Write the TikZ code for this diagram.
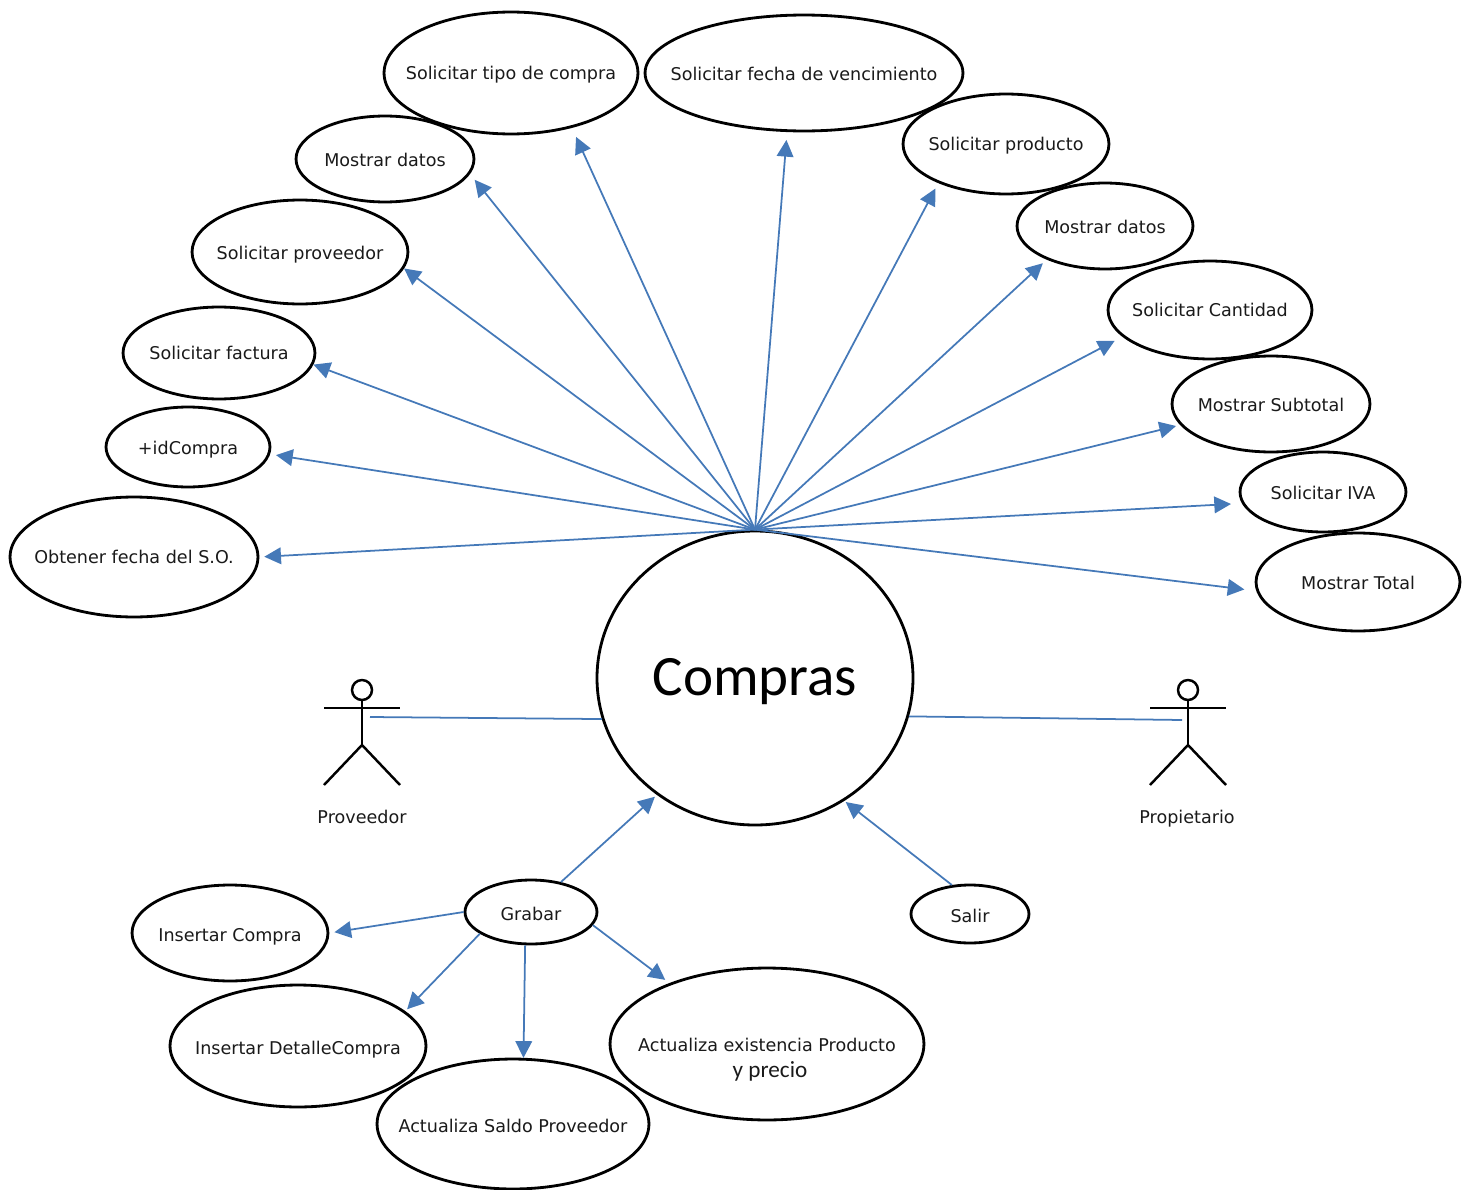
\documentclass[tikz,border=0pt]{standalone}
\usepackage{fontspec}
\setmainfont{DejaVu Sans}
\newfontfamily\carlito{Carlito}
\usepackage{xcolor}
\usetikzlibrary{shapes.geometric}
\usetikzlibrary{arrows.meta}
\definecolor{azul}{HTML}{4579B8}
\definecolor{tinta}{HTML}{1A1A1A}
\newcommand{\texto}[2][-4.3pt]{\raisebox{#1}[0pt][0pt]{\makebox[0pt]{#2}}}
\tikzset{
    caso/.style 2 args={draw = black, ellipse, line width = 1.6pt, inner sep = 0pt, text = tinta,
        minimum width = #1*0.04cm, minimum height = #2*0.04cm, font = \fontsize{10}{12}\selectfont},
    flecha/.style={azul, line width = 1pt, -{Triangle[length = 9.5pt, width = 9.5pt]}},
    linea/.style={azul, line width = 1pt},
    actor/.style={black, line width = 1.4pt},
    nombre/.style={inner sep = 0pt, text = tinta, font = \fontsize{10}{12}\selectfont}
}

\begin{document}
\begin{tikzpicture}[x = 0.02cm, y = -0.02cm]
        \useasboundingbox (0, 0) rectangle (1468, 1190);

        \node[draw = black, ellipse, line width = 1.6pt, inner sep = 0pt, minimum width = 316*0.02cm,
            minimum height = 294*0.02cm, font = \carlito\fontsize{32.5}{36}\selectfont] (compras) at (755, 678) {\texto[-10.2pt]{Compras}};

        \node[caso = {124}{60}] (obtener) at (134, 557) {\texto[-3.8pt]{Obtener fecha del S.O.}};
        \node[caso = {82}{40}] (idcompra) at (188, 447) {\texto{+idCompra}};
        \node[caso = {96}{46}] (factura) at (219, 353) {\texto[-3.8pt]{Solicitar factura}};
        \node[caso = {108}{52}] (proveedor) at (300, 252) {\texto{Solicitar proveedor}};
        \node[caso = {89}{43}] (datosa) at (385, 159) {\texto{Mostrar datos}};
        \node[caso = {127}{61}] (tipo) at (511, 73) {\texto[-3.8pt]{Solicitar tipo de compra}};
        \node[caso = {159}{58}] (fecha) at (804, 73) {\texto{Solicitar fecha de vencimiento}};
        \node[caso = {103}{50}] (producto) at (1006, 144) {\texto[-3.8pt]{Solicitar producto}};
        \node[caso = {88}{43}] (datosb) at (1105, 226) {\texto{Mostrar datos}};
        \node[caso = {102}{49}] (cantidad) at (1210, 310) {\texto[-3.8pt]{Solicitar Cantidad}};
        \node[caso = {99}{48}] (subtotal) at (1271, 404) {\texto{Mostrar Subtotal}};
        \node[caso = {83}{40}] (iva) at (1323, 492) {\texto{Solicitar IVA}};
        \node[caso = {102}{49}] (total) at (1358, 582) {\texto{Mostrar Total}};

        \node[caso = {66}{32}] (grabar) at (531, 912) {\texto[-5pt]{Grabar}};
        \node[caso = {59}{29}] (salir) at (970, 914) {\texto[-5pt]{Salir}};
        \node[caso = {98}{48}] (insertar) at (230, 933) {\texto[-5pt]{Insertar Compra}};
        \node[caso = {128}{61}] (detalle) at (298, 1046) {\texto[-4.6pt]{Insertar DetalleCompra}};
        \node[caso = {136}{65}] (saldo) at (513, 1124) {\texto[-4.6pt]{Actualiza Saldo Proveedor}};
        \node[caso = {157}{76}] (existencia) at (767, 1044)
            {\texto[-4pt]{Actualiza existencia Producto}\texto[-18.8pt]{\kern3.4pt\carlito\fontsize{13.2}{14}\selectfont y precio}};

        % actores
        \draw[actor] (362, 690) circle (10);
        \draw[actor] (362, 700) -- (362, 745);
        \draw[actor] (324, 708) -- (400, 708);
        \draw[actor] (324, 785) -- (362, 745) -- (400, 785);
        \coordinate (manoa) at (370, 717);
        \node[nombre] (nombrea) at (362, 816) {\texto{Proveedor}};

        \draw[actor] (1188, 690) circle (10);
        \draw[actor] (1188, 700) -- (1188, 745);
        \draw[actor] (1150, 708) -- (1226, 708);
        \draw[actor] (1150, 785) -- (1188, 745) -- (1226, 785);
        \coordinate (manob) at (1182, 720);
        \node[nombre] (nombreb) at (1187, 816) {\texto{Propietario}};

        \draw[linea] (manoa) -- (compras.195.4);
        \draw[linea] (compras.-14.5) -- (manob);

        % flechas de arriba
        \draw[flecha, shorten > = 2.8pt] (compras.north) -- (obtener.east);
        \draw[flecha, shorten > = 3.4pt] (compras.north) -- (idcompra.-5);
        \draw[flecha] (compras.north) -- (factura.-7);
        \draw[flecha] (compras.north) -- (proveedor.-9);
        \draw[flecha, shorten > = 4.2pt] (compras.north) -- (datosa.-10.3);
        \draw[flecha, shorten > = 5.6pt] (compras.north) -- (tipo.-42);
        \draw[flecha, shorten > = 4.5pt] (compras.north) -- (fecha.-106);
        \draw[flecha, shorten > = 3.5pt] (compras.north) -- (producto.210);
        \draw[flecha, shorten > = 3pt] (compras.north) -- (datosb.210);
        \draw[flecha, shorten > = 5pt] (compras.north) -- (cantidad.197);
        \draw[flecha, shorten > = 2.4pt] (compras.north) -- (subtotal.193.6);
        \draw[flecha, shorten > = 6.2pt] (compras.north) -- (iva.188);
        \draw[flecha, shorten > = 6.8pt] (compras.north) -- (total.185);

        % flechas de abajo
        \draw[flecha, shorten > = 1.5pt] (grabar.45) -- (compras.230);
        \draw[flecha, shorten > = 1pt] (salir.122) -- (compras.-54);
        \draw[flecha, shorten > = 2.9pt] (grabar.west) -- (insertar.east);
        \draw[flecha, shorten > = 1.5pt] (grabar.203) -- (detalle.18);
        \draw[flecha] (grabar.-100) -- (saldo.81);
        \draw[flecha, shorten > = 3pt] (grabar.-12) -- (existencia.148);
\end{tikzpicture}
\end{document}
